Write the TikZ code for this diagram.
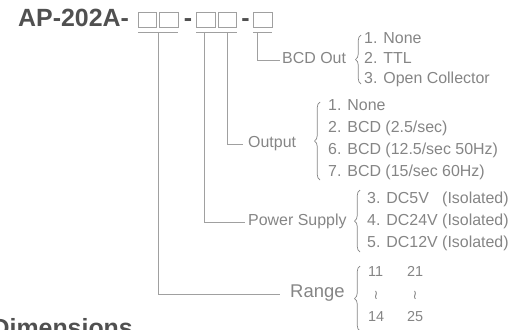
\documentclass[tikz,border=0pt]{standalone}
\usepackage{fontspec}
\setmainfont{Liberation Sans}
\newfontfamily\symfont{DejaVu Sans}
\usetikzlibrary{decorations.pathreplacing}
\definecolor{ttlc}{HTML}{505050}
\definecolor{txtc}{HTML}{858585}
\definecolor{lnc}{HTML}{A0A0A0}
\begin{document}
\begin{tikzpicture}[x=1bp,y=-1bp,
  ttl/.style={font=\fontsize{25}{25}\selectfont\bfseries, text=ttlc, inner sep=0pt},
  box/.style={draw=lnc, line width=0.8bp, minimum width=18.5bp, minimum height=15bp, inner sep=0pt},
  ln/.style={draw=lnc, line width=0.9bp},
  lbl/.style={font=\fontsize{16}{16}\selectfont, text=txtc, inner sep=0pt, text height=0.716em, text depth=0pt, anchor=west},
  itm/.style={lbl},
  brc/.style={draw=txtc, line width=0.7bp, decorate, decoration={brace, amplitude=5.5bp, aspect=0.5}},
  wr/.style={font=\symfont\fontsize{13}{13}\selectfont, text=txtc, inner sep=0pt},
]
\useasboundingbox (0,0) rectangle (516,329);

% title and code boxes
\node[ttl, anchor=base west] (title) at (18,26) {AP-202A-};
\node[box] (b1) at (147.5,19.5) {};
\node[box] (b2) at (168.8,19.5) {};
\node[ttl, anchor=base] (d1) at (188,26) {-};
\node[box] (b3) at (205.8,19.5) {};
\node[box] (b4) at (227.5,19.5) {};
\node[ttl, anchor=base] (d2) at (245.5,26) {-};
\node[box] (b5) at (262.8,19.5) {};

% underline bars
\draw[ln] (b1.west |- 0,32) -- (b2.east |- 0,32);
\draw[ln] (b3.west |- 0,32) -- (b4.east |- 0,32);
\draw[ln] (b5.west |- 0,32) -- (b5.east |- 0,32);

\coordinate (cR) at (158,32);
\coordinate (cP) at (204.5,32);
\coordinate (cO) at (227,32);
\coordinate (cB) at (257,32);

% labels
\node[lbl] (lB) at (282,60) {BCD Out};
\node[lbl] (lO) at (248,144) {Output};
\node[lbl] (lP) at (248,222) {Power Supply};
\node[lbl, font=\fontsize{18.5}{18.5}\selectfont] (lR) at (290,294) {Range};

% connectors
\draw[ln] (cB) |- ([xshift=-2bp]lB.west);
\draw[ln] (cO) |- ([xshift=-5bp]lO.west);
\draw[ln] (cP) |- ([xshift=-3bp]lP.west);
\draw[ln] (cR) |- ([xshift=-10bp]lR.west);

% BCD Out options
\draw[brc] (361,84) -- (361,35);
\node[itm] (bo1) at (364,40) {1. None};
\node[itm] (bo2) at (364,60) {2. TTL};
\node[itm] (bo3) at (364,80) {3. Open Collector};

% Output options
\draw[brc] (320,180) -- (320,102);
\node[itm] (o1) at (328,107) {1. None};
\node[itm] (o2) at (328,129) {2. BCD (2.5/sec)};
\node[itm] (o3) at (328,151) {6. BCD (12.5/sec 50Hz)};
\node[itm] (o4) at (328,173) {7. BCD (15/sec 60Hz)};

% Power supply options
\draw[brc] (360,252) -- (360,190);
\node[itm] (p1) at (367,200) {3. DC5V\hphantom{0} (Isolated)};
\node[itm] (p2) at (367,222) {4. DC24V (Isolated)};
\node[itm] (p3) at (367,244) {5. DC12V (Isolated)};

% Range options
\draw[brc] (360,331) -- (360,266);
\node[itm, font=\fontsize{14.5}{14.5}\selectfont] (r1) at (368,273) {11};
\node[itm, font=\fontsize{14.5}{14.5}\selectfont] (r2) at (407,273) {21};
\node[wr] (r3) at (376,295) {≀};
\node[wr] (r4) at (415,295) {≀};
\node[itm, font=\fontsize{14.5}{14.5}\selectfont] (r5) at (368,318) {14};
\node[itm, font=\fontsize{14.5}{14.5}\selectfont] (r6) at (407,318) {25};

% section heading (cut off at the lower edge, as in the reference)
\node[ttl, anchor=base east] (dim) at (133,336) {Dimensions};
\end{tikzpicture}
\end{document}
